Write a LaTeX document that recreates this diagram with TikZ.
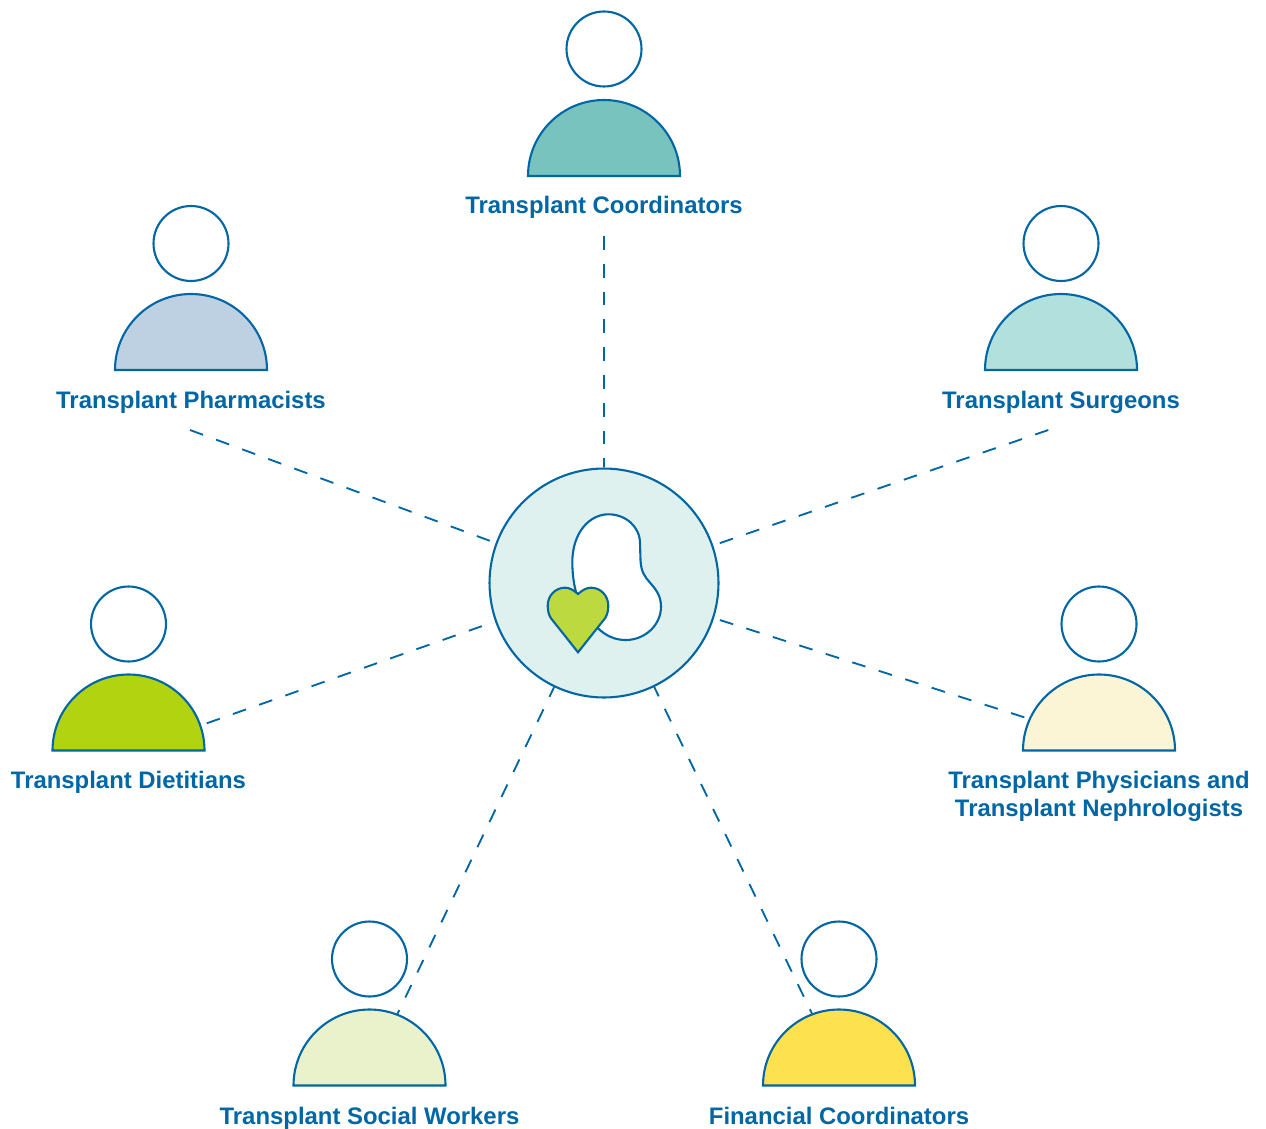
\documentclass[tikz,border=0pt]{standalone}
\usepackage{fontspec}
\usetikzlibrary{backgrounds}
\setmainfont{Liberation Sans}
\definecolor{lineblue}{HTML}{0066A4}
\definecolor{hubfill}{HTML}{DFF1EF}
\definecolor{heartfill}{HTML}{BCD93F}
\definecolor{coordfill}{HTML}{78C3BE}
\definecolor{surgfill}{HTML}{B2E0DC}
\definecolor{pharmfill}{HTML}{BDD1E3}
\definecolor{dietfill}{HTML}{B2D310}
\definecolor{physfill}{HTML}{FBF5D5}
\definecolor{socialfill}{HTML}{EAF2CC}
\definecolor{finfill}{HTML}{FDE14F}
\tikzset{
	outline/.style={draw=lineblue, line width=1.2pt},
	head/.style={outline, circle, fill=white, minimum size=1.5cm, inner sep=0pt},
	hubnode/.style={outline, circle, fill=hubfill, minimum size=4.58cm, inner sep=0pt},
	link/.style={lineblue, line width=1.05pt, dash pattern=on 7.9pt off 7.92pt},
	role/.style={text=lineblue, font=\bfseries\fontsize{13.6pt}{15.9pt}\selectfont, align=center, anchor=base, inner sep=0pt}
}
\begin{document}
\begin{tikzpicture}[x=0.02cm, y=-0.02cm]
	\useasboundingbox (0,0) rectangle (1266,1128);

	\node[hubnode] (hub) at (604,583) {};

	% kidney and heart
	\draw[outline, fill=white] (608.3,514.3) .. controls (590,514.3) and (572,532) .. (572.3,563.3)
		.. controls (572.5,575) and (574,585) .. (576,592)
		-- (597.3,627.7) .. controls (606,636) and (615,640) .. (625.7,640)
		.. controls (645,640) and (661,625) .. (661,606.7)
		.. controls (661,595) and (655,588.5) .. (650,582.7)
		.. controls (645,577) and (641,572) .. (640.5,560)
		-- (640,543.3) .. controls (640,527) and (626,514.3) .. (608.3,514.3) -- cycle;
	\draw[outline, fill=heartfill] (578,594) .. controls (573,589.5) and (569,587.7) .. (565,587.7)
		.. controls (555,587.7) and (547.7,596) .. (547.7,605.7)
		.. controls (547.7,611) and (549,615.5) .. (551,618.3)
		-- (578,652.3) -- (605,618.3)
		.. controls (607,615.5) and (608.3,611) .. (608.3,605.7)
		.. controls (608.3,596) and (601,587.7) .. (591,587.7)
		.. controls (587,587.7) and (583,589.5) .. (578,594) -- cycle;

	% people
	\node[head] (coordHead) at (604,49) {};
	\draw[outline, fill=coordfill] (528,176) arc (180:360:76) -- cycle;
	\node[role] (coordLabel) at (604,214) {Transplant Coordinators};

	\node[head] (pharmHead) at (191,243.5) {};
	\draw[outline, fill=pharmfill] (115,370) arc (180:360:76) -- cycle;
	\node[role] (pharmLabel) at (191,408) {Transplant Pharmacists};

	\node[head] (surgHead) at (1061,243.5) {};
	\draw[outline, fill=surgfill] (985,370) arc (180:360:76) -- cycle;
	\node[role] (surgLabel) at (1061,408) {Transplant Surgeons};

	\node[head] (dietHead) at (128.5,624) {};
	\draw[outline, fill=dietfill] (52.5,750.5) arc (180:360:76) -- cycle;
	\node[role] (dietLabel) at (128.5,788) {Transplant Dietitians};

	\node[head] (physHead) at (1099,624) {};
	\draw[outline, fill=physfill] (1023,750.5) arc (180:360:76) -- cycle;
	\node[role] (physLabel) at (1099,816) {Transplant Physicians and\\Transplant Nephrologists};

	\node[head] (socialHead) at (369.5,959) {};
	\draw[outline, fill=socialfill] (293.5,1085.5) arc (180:360:76) -- cycle;
	\node[role] (socialLabel) at (369.5,1124) {Transplant Social Workers};

	\node[head] (finHead) at (839,959) {};
	\draw[outline, fill=finfill] (763,1085.5) arc (180:360:76) -- cycle;
	\node[role] (finLabel) at (839,1124) {Financial Coordinators};

	% free ends of the dashed lines
	\coordinate (coordEnd) at (604,236);
	\coordinate (pharmEnd) at (190,430);
	\coordinate (surgEnd) at (1048.3,430);
	\coordinate (dietEnd) at (206.7,723.3);
	\coordinate (physEnd) at (1024.3,717.3);
	\coordinate (socialEnd) at (393.3,1022.6);
	\coordinate (finEnd) at (815.9,1021.7);

	\begin{scope}[on background layer]
		\draw[link] (coordEnd) -- (hub);
		\draw[link] (pharmEnd) -- (hub);
		\draw[link] (surgEnd) -- (hub);
		\draw[link] (dietEnd) -- (hub);
		\draw[link] (physEnd) -- (hub);
		\draw[link] (socialEnd) -- (hub);
		\draw[link] (finEnd) -- (hub);
	\end{scope}
\end{tikzpicture}
\end{document}
